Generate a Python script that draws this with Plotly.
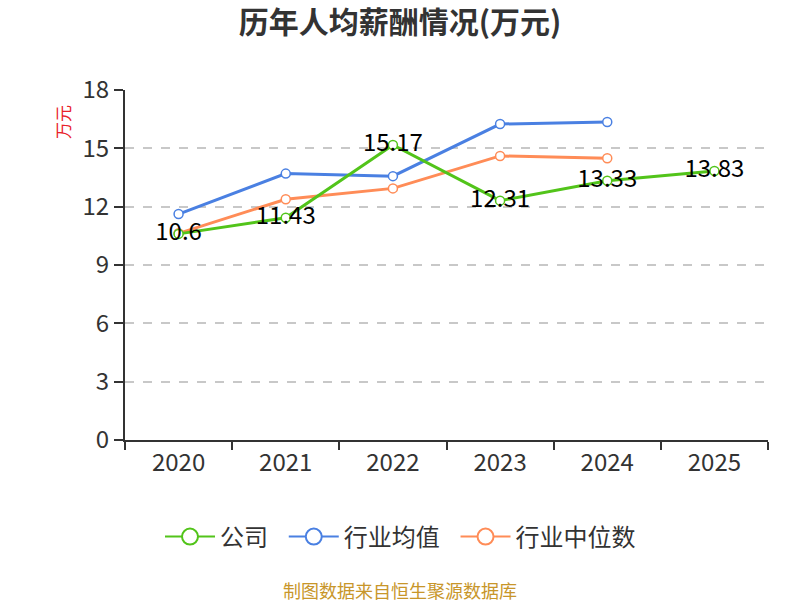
import plotly.graph_objects as go

years = ["2020", "2021", "2022", "2023", "2024", "2025"]
company = [10.6, 11.43, 15.17, 12.31, 13.33, 13.83]
industry_avg = [11.62, 13.7, 13.57, 16.25, 16.35, None]
industry_median = [10.63, 12.38, 12.94, 14.61, 14.49, None]

FONT = "Noto Sans CJK SC"
GREEN, BLUE, ORANGE = "#52c41a", "#4a80e2", "#ff8c57"

fig = go.Figure()

def add_series(name, values, color, text=False, rank=1):
    kw = {}
    if text:
        kw = dict(text=[f"{v:g}" for v in values], textposition="middle center",
                  textfont=dict(size=24, color="#000000", family=FONT))
    fig.add_trace(go.Scatter(
        x=years, y=values, name=name, showlegend=False,
        mode="lines+markers+text" if text else "lines+markers",
        line=dict(color=color, width=3),
        marker=dict(size=9, color="white", line=dict(color=color, width=1.5)),
        **kw,
    ))
    # legend entry with bigger symbol
    fig.add_trace(go.Scatter(
        x=[None], y=[None], name=name + "\u00a0\u00a0", mode="lines+markers", legendrank=rank,
        line=dict(color=color, width=2),
        marker=dict(size=22, color="white", line=dict(color=color, width=2)),
    ))

add_series("行业均值", industry_avg, BLUE, rank=2)
add_series("行业中位数", industry_median, ORANGE, rank=3)
add_series("公司", company, GREEN, text=True, rank=1)

fig.update_layout(
    width=800, height=600,
    margin=dict(l=125, r=32, t=90, b=160),
    paper_bgcolor="white", plot_bgcolor="white",
    font=dict(family=FONT, color="#333333"),
    title=dict(text="<b>历年人均薪酬情况(万元)</b>", x=0.5, xanchor="center",
               y=1 - 22 / 600, yanchor="middle", font=dict(size=30, color="#333333")),
    showlegend=True,
    legend=dict(orientation="h", xanchor="center", yanchor="middle",
                itemwidth=50, font=dict(size=24, color="#333333")),
    xaxis=dict(
        type="category", categoryorder="array", categoryarray=years,
        showline=True, linecolor="#333333", linewidth=2,
        ticks="outside", ticklen=8, tickcolor="#333333", tickwidth=2,
        tickson="boundaries", showgrid=False,
        tickfont=dict(size=24, color="#333333"),
        range=[-0.5, 5.5],
    ),
    yaxis=dict(
        range=[0, 18], tickvals=[0, 3, 6, 9, 12, 15, 18],
        showline=True, linecolor="#333333", linewidth=2,
        ticks="outside", ticklen=9, tickcolor="#333333", tickwidth=2,
        showgrid=True, gridcolor="#c8c8c8", griddash="dash", gridwidth=1.5,
        zeroline=False,
        tickfont=dict(size=24, color="#333333"),
    ),
)

plot_h = 600 - 90 - 160
plot_w = 800 - 125 - 32
def px_to_paper(xp, yp):
    return (xp - 125) / plot_w, (440 - yp) / plot_h

ax, ay = px_to_paper(62, 122)
fx, fy = px_to_paper(400, 590)
lx, ly = px_to_paper(406, 537)
fig.update_layout(
    legend=dict(x=lx, y=ly),
    annotations=[
        dict(text="万元", textangle=-90, x=ax, y=ay, xref="paper", yref="paper",
             xanchor="center", yanchor="middle",
             showarrow=False, font=dict(size=17, color="#e8222a")),
        dict(text="制图数据来自恒生聚源数据库", x=fx, y=fy, xref="paper", yref="paper",
             xanchor="center", yanchor="middle",
             showarrow=False, font=dict(size=18, color="#c8962a")),
    ],
)

fig.write_html("out.html", config={"displayModeBar": False},
               post_script="document.body.style.margin='0';document.body.style.overflow='hidden';")
